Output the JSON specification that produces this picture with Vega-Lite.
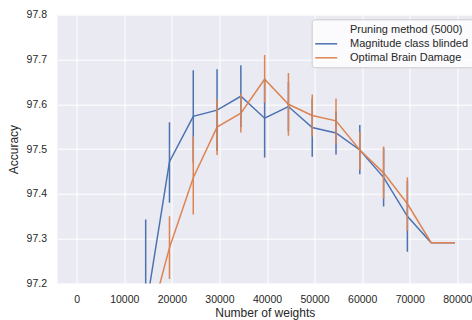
{
  "$schema": "https://vega.github.io/schema/vega-lite/v6.json",
  "width": 414.5,
  "height": 268.8,
  "autosize": {"type": "none"},
  "padding": {"left": 57.5, "top": 14.7, "right": 0, "bottom": 36.5},
  "background": "white",
  "config": {
    "view": {"fill": "#EAEAF2", "stroke": null},
    "font": "Liberation Sans",
    "axis": {
      "grid": true,
      "gridColor": "white",
      "gridWidth": 1,
      "domain": false,
      "ticks": false,
      "labelFont": "Liberation Sans",
      "labelFontSize": 10.5,
      "labelColor": "#262626",
      "titleFont": "Liberation Sans",
      "titleFontSize": 12,
      "titleFontWeight": "normal",
      "titleColor": "#262626"
    },
    "legend": {
      "labelFont": "Liberation Sans",
      "labelFontSize": 11,
      "labelColor": "#262626"
    }
  },
  "data": {
    "values": [
      {"weights": 14500, "method": "Magnitude class blinded", "acc": 97.14, "lo": 96.94, "hi": 97.343},
      {"weights": 19500, "method": "Magnitude class blinded", "acc": 97.472, "lo": 97.38, "hi": 97.56},
      {"weights": 24500, "method": "Magnitude class blinded", "acc": 97.573, "lo": 97.47, "hi": 97.676},
      {"weights": 29500, "method": "Magnitude class blinded", "acc": 97.587, "lo": 97.496, "hi": 97.678},
      {"weights": 34500, "method": "Magnitude class blinded", "acc": 97.618, "lo": 97.549, "hi": 97.687},
      {"weights": 39500, "method": "Magnitude class blinded", "acc": 97.569, "lo": 97.481, "hi": 97.657},
      {"weights": 44500, "method": "Magnitude class blinded", "acc": 97.595, "lo": 97.54, "hi": 97.65},
      {"weights": 49500, "method": "Magnitude class blinded", "acc": 97.548, "lo": 97.483, "hi": 97.613},
      {"weights": 54500, "method": "Magnitude class blinded", "acc": 97.536, "lo": 97.488, "hi": 97.584},
      {"weights": 59500, "method": "Magnitude class blinded", "acc": 97.498, "lo": 97.444, "hi": 97.554},
      {"weights": 64500, "method": "Magnitude class blinded", "acc": 97.437, "lo": 97.372, "hi": 97.502},
      {"weights": 69500, "method": "Magnitude class blinded", "acc": 97.35, "lo": 97.271, "hi": 97.429},
      {"weights": 74500, "method": "Magnitude class blinded", "acc": 97.291, "lo": 97.291, "hi": 97.291},
      {"weights": 79500, "method": "Magnitude class blinded", "acc": 97.291, "lo": 97.291, "hi": 97.291},
      {"weights": 14500, "method": "Optimal Brain Damage", "acc": 97.08, "lo": 96.97, "hi": 97.17},
      {"weights": 19500, "method": "Optimal Brain Damage", "acc": 97.28, "lo": 97.21, "hi": 97.35},
      {"weights": 24500, "method": "Optimal Brain Damage", "acc": 97.436, "lo": 97.354, "hi": 97.528},
      {"weights": 29500, "method": "Optimal Brain Damage", "acc": 97.549, "lo": 97.487, "hi": 97.611},
      {"weights": 34500, "method": "Optimal Brain Damage", "acc": 97.58, "lo": 97.537, "hi": 97.624},
      {"weights": 39500, "method": "Optimal Brain Damage", "acc": 97.656, "lo": 97.604, "hi": 97.71},
      {"weights": 44500, "method": "Optimal Brain Damage", "acc": 97.6, "lo": 97.53, "hi": 97.67},
      {"weights": 49500, "method": "Optimal Brain Damage", "acc": 97.575, "lo": 97.528, "hi": 97.622},
      {"weights": 54500, "method": "Optimal Brain Damage", "acc": 97.563, "lo": 97.512, "hi": 97.613},
      {"weights": 59500, "method": "Optimal Brain Damage", "acc": 97.498, "lo": 97.454, "hi": 97.539},
      {"weights": 64500, "method": "Optimal Brain Damage", "acc": 97.447, "lo": 97.39, "hi": 97.506},
      {"weights": 69500, "method": "Optimal Brain Damage", "acc": 97.378, "lo": 97.318, "hi": 97.437},
      {"weights": 74500, "method": "Optimal Brain Damage", "acc": 97.291, "lo": 97.291, "hi": 97.291},
      {"weights": 79500, "method": "Optimal Brain Damage", "acc": 97.291, "lo": 97.291, "hi": 97.291}
    ]
  },
  "encoding": {
    "x": {
      "field": "weights",
      "type": "quantitative",
      "scale": {"domain": [-4035, 83080], "nice": false, "zero": false},
      "axis": {
        "title": "Number of weights",
        "values": [0, 10000, 20000, 30000, 40000, 50000, 60000, 70000, 80000],
        "format": "d",
        "labelPadding": 11,
        "titlePadding": 2.5,
        "labelFlush": false
      }
    },
    "color": {
      "field": "method",
      "type": "nominal",
      "scale": {
        "domain": ["Pruning method (5000)", "Magnitude class blinded", "Optimal Brain Damage"],
        "range": ["transparent", "#4C72B0", "#DD8452"]
      },
      "legend": {
        "title": null,
        "orient": "none",
        "legendX": 254.2,
        "legendY": 4.6,
        "fillColor": "rgba(255,255,255,0.8)",
        "strokeColor": "#CCCCCC",
        "cornerRadius": 3,
        "padding": 4,
        "symbolType": "M-2,0H2",
        "symbolSize": 121,
        "symbolStrokeWidth": 1.5,
        "symbolOffset": 4,
        "labelOffset": 17.3,
        "rowPadding": 2
      }
    }
  },
  "layer": [
    {
      "mark": {"type": "line", "strokeWidth": 1.5, "clip": true},
      "encoding": {
        "y": {
          "field": "acc",
          "type": "quantitative",
          "scale": {"domain": [97.2, 97.8], "nice": false, "zero": false},
          "axis": {
            "title": "Accuracy",
            "values": [97.2, 97.3, 97.4, 97.5, 97.6, 97.7, 97.8],
            "format": ".1f",
            "labelPadding": 11,
            "titlePadding": 6
          }
        }
      }
    },
    {
      "mark": {"type": "rule", "strokeWidth": 1.5, "clip": true},
      "encoding": {
        "y": {"field": "lo", "type": "quantitative"},
        "y2": {"field": "hi"}
      }
    }
  ]
}
